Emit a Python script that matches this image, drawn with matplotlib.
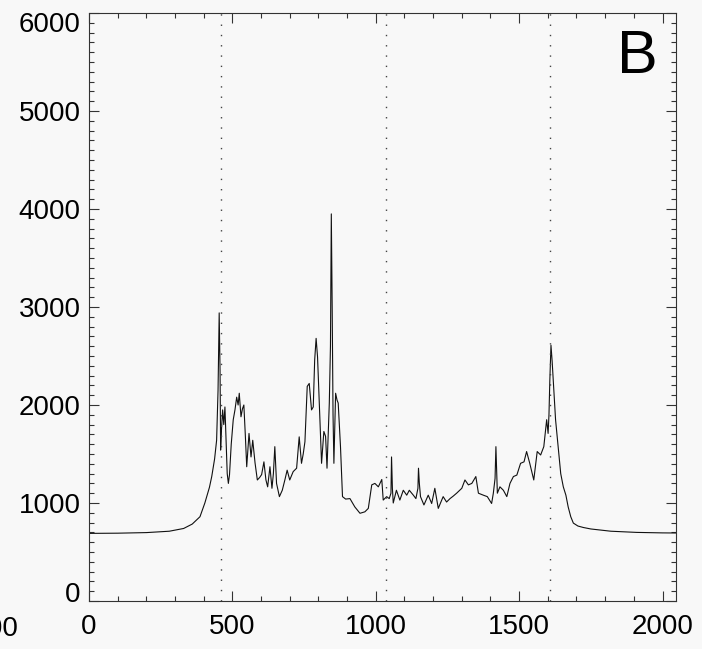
import matplotlib
matplotlib.use("Agg")
import matplotlib.pyplot as plt
import matplotlib.transforms as mtransforms
from matplotlib.ticker import MultipleLocator

# spectrum profile
pixel = [0, 100, 200, 280, 330, 360, 387, 404, 420, 428,
         438, 445, 450, 454, 457, 459, 462, 466, 470, 474,
         478, 482, 486, 490, 496, 503, 509, 515, 520, 524,
         530, 535, 540, 545, 550, 558, 565, 571, 579, 587,
         595, 602, 610, 617, 623, 631, 638, 643, 648, 654,
         664, 674, 683, 691, 700, 712, 724, 733, 741, 747,
         753, 757, 761, 768, 776, 782, 787, 792, 797, 803,
         811, 819, 825, 830, 838, 842, 845, 848, 851, 854,
         860, 865, 869, 873, 877, 884, 895, 910, 927, 945,
         962, 974, 986, 997, 1009, 1021, 1026, 1038, 1047, 1053,
         1055, 1058, 1061, 1072, 1084, 1096, 1108, 1117, 1131, 1140,
         1147, 1149, 1152, 1156, 1168, 1183, 1195, 1206, 1218, 1235,
         1247, 1259, 1270, 1282, 1300, 1311, 1323, 1335, 1349, 1358,
         1375, 1389, 1404, 1410, 1416, 1419, 1422, 1424, 1433, 1445,
         1457, 1468, 1480, 1492, 1505, 1517, 1526, 1537, 1551, 1563,
         1575, 1586, 1596, 1601, 1604, 1607, 1611, 1615, 1619, 1627,
         1636, 1645, 1654, 1663, 1671, 1680, 1689, 1705, 1724, 1750,
         1782, 1820, 1863, 1910, 1956, 2000, 2047]
counts = [690, 692, 698, 712, 740, 785, 860, 1000, 1160, 1270,
          1450, 1640, 2150, 2940, 2350, 1540, 1750, 1950, 1800, 1980,
          1650, 1300, 1200, 1290, 1600, 1850, 1950, 2080, 2000, 2120,
          1880, 1960, 2000, 1700, 1370, 1710, 1470, 1640, 1410, 1235,
          1260, 1290, 1420, 1235, 1165, 1370, 1150, 1300, 1575, 1200,
          1065, 1130, 1235, 1335, 1235, 1320, 1355, 1675, 1405, 1500,
          1625, 1900, 2190, 2220, 1950, 1980, 2460, 2680, 2490, 2020,
          1405, 1730, 1680, 1355, 2020, 2600, 3950, 3000, 1900, 1405,
          2120, 2050, 2020, 1800, 1575, 1065, 1040, 1045, 960, 895,
          910, 945, 1185, 1200, 1165, 1240, 1030, 1065, 1045, 1100,
          1470, 1150, 1000, 1130, 1030, 1130, 1080, 1130, 1080, 1045,
          1150, 1355, 1200, 1065, 980, 1080, 995, 1150, 945, 1065,
          1010, 1045, 1070, 1100, 1150, 1235, 1185, 1200, 1270, 1100,
          1080, 1065, 995, 1100, 1250, 1575, 1300, 1100, 1165, 1130,
          1065, 1200, 1270, 1285, 1405, 1420, 1525, 1405, 1235, 1525,
          1490, 1575, 1850, 1710, 1900, 2250, 2610, 2450, 2250, 1850,
          1575, 1300, 1165, 1080, 960, 860, 795, 765, 750, 735,
          724, 712, 706, 700, 697, 695, 694]

marks = [462, 1036, 1608]
x_ticks = [0, 500, 1000, 1500, 2000]
y_ticks = [0, 1000, 2000, 3000, 4000, 5000, 6000]

bg = "#f8f8f8"
plt.rcParams["font.family"] = ["Liberation Sans", "DejaVu Sans"]

fig = plt.figure(figsize=(7.02, 6.49), dpi=100, facecolor=bg)
ax = fig.add_axes([89 / 702, 48 / 649, 587 / 702, 588 / 649], facecolor=bg)

ax.plot(pixel, counts, color="#111111", lw=0.8)
for m in marks:
    ax.axvline(m, color="#444444", lw=1.0, linestyle=(0, (1, 6.4)))

ax.set_xlim(0, 2047)
ax.set_ylim(0, 6000)
ax.set_xticks(x_ticks)
ax.set_yticks(y_ticks)
ax.xaxis.set_minor_locator(MultipleLocator(100))
ax.yaxis.set_minor_locator(MultipleLocator(100))
ax.tick_params(which="both", direction="in", top=True, right=True,
               color="#333333", width=0.8, labelsize=20)
ax.tick_params(which="major", length=7.5)
ax.tick_params(which="minor", length=3.6)
ax.tick_params(axis="x", pad=9)
ax.tick_params(axis="y", pad=6)
for sp in ax.spines.values():
    sp.set_color("#333333")
    sp.set_linewidth(0.8)

ax.text(0.935, 0.898, "B", transform=ax.transAxes, fontsize=44,
        ha="center", va="baseline")

# leftover label of the neighbouring panel
fig.text(18 / 702, 20 / 649, "2000", fontsize=20, ha="right", va="center")

fig.canvas.draw()
yt = ax.yaxis.get_major_ticks()
shift_up = mtransforms.ScaledTranslation(0, 9 / 100, fig.dpi_scale_trans)
shift_dn = mtransforms.ScaledTranslation(0, -9 / 100, fig.dpi_scale_trans)
yt[0].label1.set_transform(yt[0].label1.get_transform() + shift_up)
yt[-1].label1.set_transform(yt[-1].label1.get_transform() + shift_dn)

fig.savefig("out.png", dpi=100, facecolor=bg)
